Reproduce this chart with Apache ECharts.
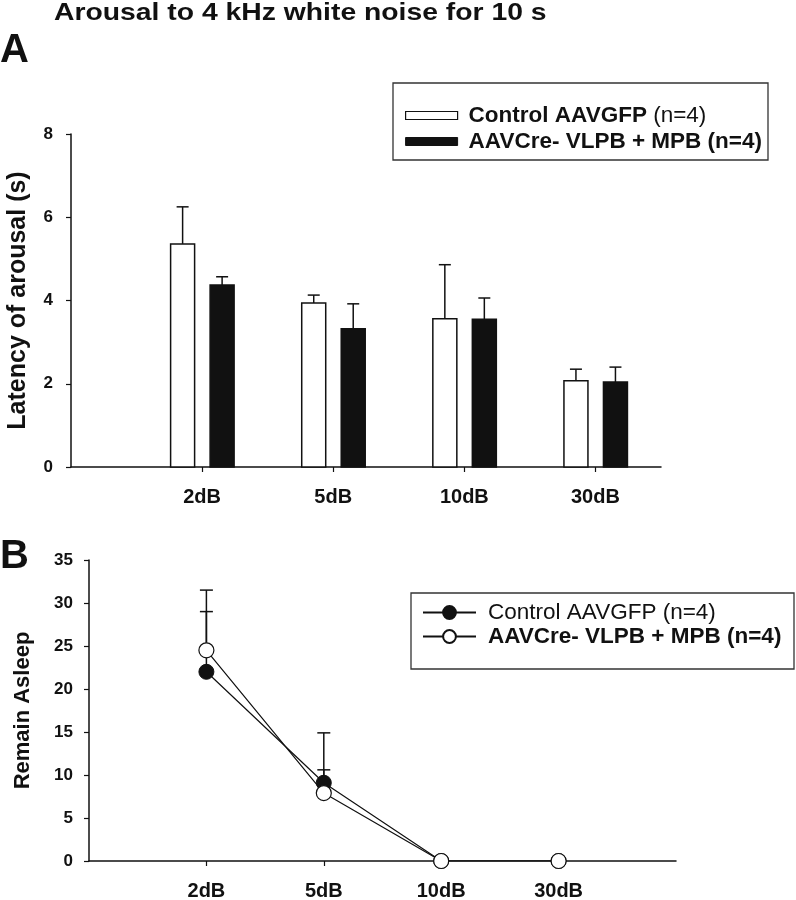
<!DOCTYPE html>
<html>
<head>
<meta charset="utf-8">
<script src="https://cdn.jsdelivr.net/npm/echarts@6/dist/echarts.min.js"></script>
<style>
html,body{margin:0;padding:0;background:#fff;}
#chart{width:796px;height:900px;}
</style>
</head>
<body>
<div id="chart"></div>
<script>
// ---- data ----
const categories = ['2dB', '5dB', '10dB', '30dB'];
const categoryPos = [1, 2, 3, 4];

// Panel A: latency of arousal (s), mean and upper error
const controlLatency = [5.36, 3.94, 3.56, 2.07];
const controlLatencyErr = [0.89, 0.19, 1.30, 0.28];
const creLatency = [4.37, 3.32, 3.55, 2.04];
const creLatencyErr = [0.20, 0.60, 0.51, 0.36];

// Panel B: remain asleep
const controlAsleep = [22.0, 9.1, 0, 0];
const controlAsleepErr = [7.0, 1.5, 0, 0];
const creAsleep = [24.5, 7.9, 0, 0];
const creAsleepErr = [7.0, 7.0, 0, 0];

const legendText = {
  ctlA: '{b|Control AAVGFP}{n| (n=4)}',
  creA: '{b|AAVCre- VLPB + MPB (n=4)}',
  ctlB: '{n|Control AAVGFP (n=4)}',
  creB: '{b|AAVCre- VLPB + MPB (n=4)}'
};

const FONT = 'Arial, "Liberation Sans", Helvetica, sans-serif';
const INK = '#111';

function barSeries(name, means, errs, fill, dx) {
  return {
    name: name,
    type: 'custom',
    xAxisIndex: 0, yAxisIndex: 0,
    itemStyle: { color: fill, borderColor: INK, borderWidth: 1.5 },
    data: means.map((m, i) => [categoryPos[i], m, errs[i]]),
    encode: { x: 0, y: 1 },
    renderItem: function (params, api) {
      const x = api.value(0), v = api.value(1), e = api.value(2);
      const p0 = api.coord([x, 0]);
      const p1 = api.coord([x, v]);
      const p2 = api.coord([x, v + e]);
      const cx = p0[0] + dx;
      const w = 24;
      return {
        type: 'group',
        children: [
          { type: 'line', shape: { x1: cx, y1: p1[1], x2: cx, y2: p2[1] }, style: { stroke: INK, lineWidth: 1.5 } },
          { type: 'line', shape: { x1: cx - 6, y1: p2[1], x2: cx + 6, y2: p2[1] }, style: { stroke: INK, lineWidth: 1.5 } },
          { type: 'rect', shape: { x: cx - w / 2, y: p1[1], width: w, height: p0[1] - p1[1] }, style: { fill: fill, stroke: INK, lineWidth: 1.5 } }
        ]
      };
    }
  };
}

function errSeries(means, errs) {
  return {
    type: 'custom',
    xAxisIndex: 1, yAxisIndex: 1,
    silent: true,
    data: means.map((m, i) => [categoryPos[i], m, errs[i]]),
    encode: { x: 0, y: 1 },
    renderItem: function (params, api) {
      const x = api.value(0), v = api.value(1), e = api.value(2);
      if (!e) return null;
      const p1 = api.coord([x, v]);
      const p2 = api.coord([x, v + e]);
      return {
        type: 'group',
        children: [
          { type: 'line', shape: { x1: p1[0], y1: p1[1], x2: p1[0], y2: p2[1] }, style: { stroke: INK, lineWidth: 1.5 } },
          { type: 'line', shape: { x1: p1[0] - 6.5, y1: p2[1], x2: p1[0] + 6.5, y2: p2[1] }, style: { stroke: INK, lineWidth: 1.5 } }
        ]
      };
    }
  };
}

function xAxis(gridIndex, max) {
  return {
    gridIndex: gridIndex, type: 'value', min: 0, max: max, interval: 1,
    axisLine: { show: true, onZero: false, lineStyle: { color: INK, width: 1.5 } },
    axisTick: { show: true, customValues: categoryPos, length: 5, lineStyle: { color: INK, width: 1.2 } },
    axisLabel: {
      customValues: categoryPos, margin: 20,
      formatter: v => categories[categoryPos.indexOf(v)] || '',
      color: INK, fontFamily: FONT, fontWeight: 'bold', fontSize: 20
    },
    splitLine: { show: false }
  };
}

function yAxis(gridIndex, max, interval, name, nameGap, nameSize, margin) {
  return {
    gridIndex: gridIndex, type: 'value', min: 0, max: max, interval: interval,
    name: name, nameLocation: 'middle', nameRotate: 90, nameGap: nameGap,
    nameTextStyle: { color: INK, fontFamily: FONT, fontWeight: 'bold', fontSize: nameSize },
    axisLine: { show: true, lineStyle: { color: INK, width: 1.5 } },
    axisTick: { show: true, length: 5, lineStyle: { color: INK, width: 1.2 } },
    axisLabel: { margin: margin, color: INK, fontFamily: FONT, fontWeight: 'bold', fontSize: 17 },
    splitLine: { show: false }
  };
}

const rich = {
  b: { fontFamily: FONT, fontWeight: 'bold', fontSize: 22.5, color: INK },
  n: { fontFamily: FONT, fontWeight: 'normal', fontSize: 22.5, color: INK }
};

const option = {
  backgroundColor: '#fff',
  animation: false,
  title: [
    { text: 'A', left: 0, top: 31, padding: 0,
      textStyle: { fontFamily: FONT, fontWeight: 'bold', fontSize: 40, color: INK } },
    { text: 'B', left: 0, top: 537, padding: 0,
      textStyle: { fontFamily: FONT, fontWeight: 'bold', fontSize: 40, color: INK } }
  ],
  grid: [
    { left: 71, top: 134, width: 590, height: 333, containLabel: false, outerBoundsMode: 'none' },
    { left: 89, top: 560, width: 587, height: 301, containLabel: false, outerBoundsMode: 'none' }
  ],
  xAxis: [xAxis(0, 4.5), xAxis(1, 5)],
  yAxis: [
    yAxis(0, 8, 2, 'Latency of arousal (s)', 40, 25, 18),
    yAxis(1, 35, 5, 'Remain Asleep', 55, 22, 16)
  ],
  legend: [
    {
      orient: 'vertical', left: 405, top: 104, padding: 0, itemGap: 3,
      itemWidth: 52, itemHeight: 8,
      data: [
        { name: 'ctlA', icon: 'rect', itemStyle: { color: '#fff', borderColor: INK, borderWidth: 1.2 } },
        { name: 'creA', icon: 'rect', itemStyle: { color: INK, borderColor: INK, borderWidth: 1 } }
      ],
      formatter: n => legendText[n],
      textStyle: { lineHeight: 22, padding: [0, 0, 0, 6], rich: rich },
      selectedMode: false
    },
    {
      orient: 'vertical', left: 422, top: 601, padding: 0, itemGap: 1,
      itemWidth: 53, itemHeight: 16,
      data: ['ctlB', 'creB'],
      formatter: n => legendText[n],
      textStyle: { lineHeight: 22, padding: [0, 0, 0, 7], rich: rich },
      selectedMode: false
    }
  ],
  graphic: [
    { type: 'text', x: 54, y: 1, scaleX: 1.18,
      style: { text: 'Arousal to 4 kHz white noise for 10 s', fill: INK,
               font: 'bold 24px ' + FONT, verticalAlign: 'top', align: 'left' } },
    { type: 'rect', shape: { x: 393, y: 83, width: 375, height: 77 }, style: { fill: 'none', stroke: '#333', lineWidth: 1.3 }, z: 10 },
    { type: 'rect', shape: { x: 411, y: 593, width: 383, height: 76 }, style: { fill: 'none', stroke: '#333', lineWidth: 1.3 }, z: 10 }
  ],
  series: [
    barSeries('ctlA', controlLatency, controlLatencyErr, '#fff', -19.5),
    barSeries('creA', creLatency, creLatencyErr, INK, 20),
    errSeries(controlAsleep, controlAsleepErr),
    errSeries(creAsleep, creAsleepErr),
    {
      name: 'ctlB', type: 'line', xAxisIndex: 1, yAxisIndex: 1,
      data: controlAsleep.map((v, i) => [categoryPos[i], v]),
      symbol: 'circle', symbolSize: 15,
      lineStyle: { color: INK, width: 1.2 },
      itemStyle: { color: INK, borderColor: INK, borderWidth: 1 }
    },
    {
      name: 'creB', type: 'line', xAxisIndex: 1, yAxisIndex: 1,
      data: creAsleep.map((v, i) => [categoryPos[i], v]),
      symbol: 'circle', symbolSize: 15,
      lineStyle: { color: INK, width: 1.2 },
      itemStyle: { color: '#fff', borderColor: INK, borderWidth: 1.2 }
    }
  ]
};

const chart = echarts.init(document.getElementById('chart'), null, { renderer: 'canvas' });
chart.setOption(option);
</script>
</body>
</html>
